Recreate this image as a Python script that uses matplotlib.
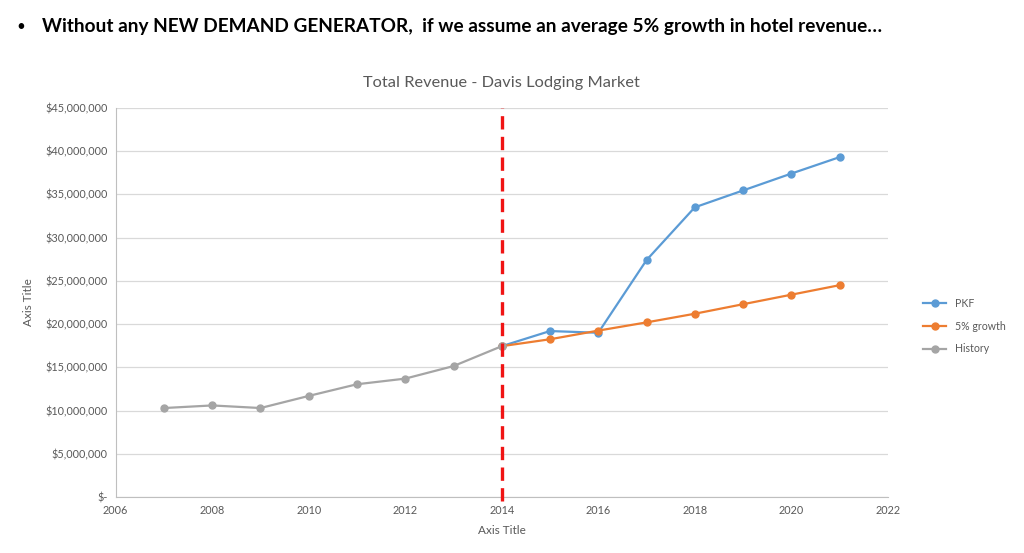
import matplotlib.pyplot as plt
import numpy as np

hist_years = [2007, 2008, 2009, 2010, 2011, 2012, 2013, 2014]
history = [10300000, 10600000, 10300000, 11700000, 13050000, 13700000, 15150000, 17450000]

proj_years = [2014, 2015, 2016, 2017, 2018, 2019, 2020, 2021]
pkf = [17450000, 19200000, 19000000, 27400000, 33500000, 35450000, 37400000, 39300000]
growth5 = [17450000, 18250000, 19250000, 20200000, 21200000, 22300000, 23400000, 24500000]

yticks = np.arange(0, 45000001, 5000000)
ylabels = ["$-"] + ["${:,.0f}".format(v) for v in yticks[1:]]

plt.rcParams['font.family'] = ['Lato', 'DejaVu Sans']

fig = plt.figure(figsize=(10.24, 5.53), dpi=100)
ax = fig.add_axes([0.113, 0.101, 0.754, 0.704])

grey_txt = '#595959'
ax.plot(proj_years, pkf, color='#5B9BD5', marker='o', markersize=5, lw=1.6, label='PKF', zorder=3)
ax.plot(proj_years, growth5, color='#ED7D31', marker='o', markersize=5, lw=1.6, label='5% growth', zorder=3)
ax.plot(hist_years, history, color='#A5A5A5', marker='o', markersize=5, lw=1.6, label='History', zorder=4)

# 2014 divider between history and projections
ax.axvline(2014, color='#F01414', lw=2.4, ls=(0, (4, 2.2)), zorder=5, ymin=-0.01, ymax=1.0, clip_on=False)

ax.set_xlim(2006, 2022)
ax.set_ylim(0, 45000000)
ax.set_xticks(np.arange(2006, 2023, 2))
ax.set_yticks(yticks)
ax.set_yticklabels(ylabels)
ax.tick_params(length=0, labelsize=7.8, colors=grey_txt, pad=6)
ax.grid(axis='y', color='#D9D9D9', lw=0.9)
ax.set_axisbelow(True)
for s in ['top', 'right']:
    ax.spines[s].set_visible(False)
for s in ['left', 'bottom']:
    ax.spines[s].set_color('#BFBFBF')

ax.set_xlabel('Axis Title', fontsize=8.5, color=grey_txt, labelpad=6)
ax.set_ylabel('Axis Title', fontsize=8.5, color=grey_txt, labelpad=8)
ax.set_title('Total Revenue - Davis Lodging Market', fontsize=11.8, color=grey_txt, pad=15)

fig.legend(loc='center left', bbox_to_anchor=(0.892, 0.41), frameon=False,
           fontsize=7.6, labelcolor=grey_txt, handlelength=2.2, labelspacing=1.1)

fig.text(0.016, 0.952, '\u2022', fontsize=11, va='center')
fig.text(0.041, 0.952, 'Without any NEW DEMAND GENERATOR,  if we assume an average 5% growth in hotel revenue\u2026',
         fontsize=13.7, fontweight='bold', va='center')

fig.savefig('out.png', dpi=100)
